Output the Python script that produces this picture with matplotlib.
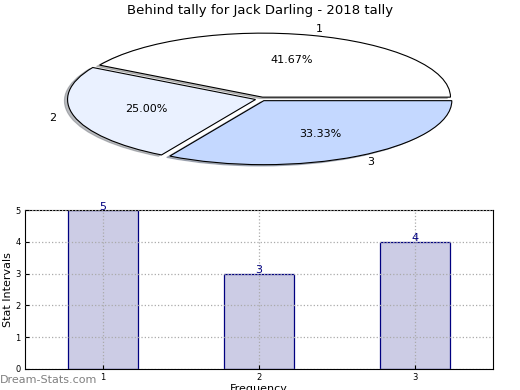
import numpy as np
import matplotlib
matplotlib.use("Agg")
import matplotlib.pyplot as plt

# data
slice_labels = ["1", "2", "3"]
slice_counts = [5, 3, 4]
slice_colors = ["#ffffff", "#eaf1ff", "#c4d8ff"]

bar_cats = [1, 2, 3]
bar_vals = [5, 3, 4]

fig = plt.figure(figsize=(5.2, 3.9), dpi=100)

# pie on top
ax1 = fig.add_axes([0.0, 210 / 390, 1.0, 160 / 390])
ax1.pie(slice_counts, labels=slice_labels, colors=slice_colors,
        autopct="%.2f%%", explode=[0.03, 0.03, 0.03],
        shadow={"ox": -0.012, "oy": -0.015, "shade": 0.5},
        startangle=0, wedgeprops=dict(edgecolor="black", linewidth=0.8),
        textprops=dict(fontsize=8))
ax1.set_aspect("auto")
ax1.set_xlim(-261 / 188, 259 / 188)
ax1.set_ylim(-81 / 64, 79 / 64)
ax1.set_title("Behind tally for Jack Darling - 2018 tally", fontsize=9.5, pad=4)

# bars below
ax2 = fig.add_axes([25 / 520, 21 / 390, 468 / 520, 159 / 390])
ax2.bar(bar_cats, bar_vals, width=0.45, color="#ccccE5", edgecolor="#000080",
        linewidth=0.9, zorder=2)
for x, v in zip(bar_cats, bar_vals):
    ax2.text(x, v - 0.05, str(v), ha="center", va="bottom", color="#000080", fontsize=8)
ax2.set_xlim(0.5, 3.5)
ax2.set_ylim(0, 5)
ax2.set_xticks(bar_cats)
ax2.set_yticks(range(6))
ax2.tick_params(labelsize=6, direction="in", length=3, pad=3)
ax2.grid(True, linestyle=":", color="#aaaaaa", linewidth=0.9, zorder=3)
ax2.set_axisbelow(False)
ax2.set_ylabel("Stat Intervals", fontsize=8, labelpad=2)
ax2.set_xlabel("Frequency", fontsize=8, labelpad=1)

fig.text(0.0, 0.012, "Dream-Stats.com", fontsize=8, color="#808080",
         ha="left", va="bottom")

fig.savefig("out.png", dpi=100)
